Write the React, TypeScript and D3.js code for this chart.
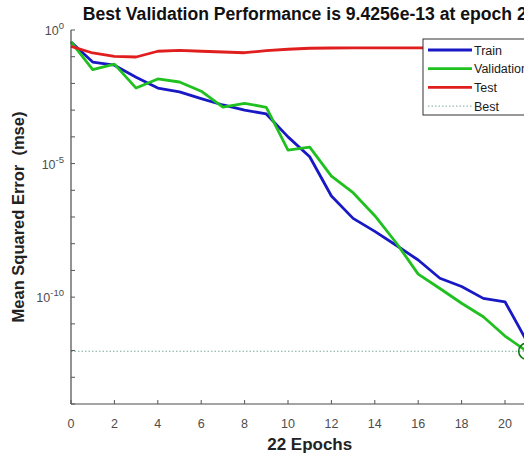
import React from "react";
import * as d3 from "d3";

const epochs = d3.range(0, 22);
const trainMse = [3.56e-1, 6.3e-2, 4.8e-2, 1.7e-2, 6.7e-3, 4.8e-3, 2.7e-3, 1.56e-3, 1.0e-3, 7.2e-4, 1.0e-4, 1.8e-5, 6.1e-7, 8.9e-8, 2.9e-8, 8.6e-9, 2.45e-9, 5.1e-10, 2.5e-10, 9.0e-11, 6.7e-11, 2.3e-12];
const validationMse = [3.56e-1, 3.27e-2, 5.3e-2, 6.7e-3, 1.47e-2, 1.13e-2, 5.1e-3, 1.31e-3, 1.8e-3, 1.28e-3, 3.2e-5, 4.1e-5, 3.4e-6, 8.1e-7, 1.12e-7, 1.04e-8, 7.3e-10, 2.1e-10, 5.9e-11, 1.85e-11, 3.5e-12, 9.4256e-13];
const testMse = [2.45e-1, 1.38e-1, 1.035e-1, 9.75e-2, 1.6e-1, 1.74e-1, 1.6e-1, 1.5e-1, 1.41e-1, 1.68e-1, 1.9e-1, 2.07e-1, 2.12e-1, 2.16e-1, 2.14e-1, 2.13e-1, 2.13e-1, 2.13e-1, 2.13e-1, 2.13e-1, 2.13e-1, 2.13e-1];
const bestEpoch = 21;
const bestValue = 9.4256e-13;
const xTicks = [0, 2, 4, 6, 8, 10, 12, 14, 16, 18, 20];
const yLabelExps = [0, -5, -10];
const yTickExps = d3.range(0, -15, -1);
const legendItems = [
  { name: "Train", color: "#1818c4", dash: "" },
  { name: "Validation", color: "#20c020", dash: "" },
  { name: "Test", color: "#e01e1e", dash: "" },
  { name: "Best", color: "#7fa898", dash: "1.5,2" },
];
const titleText = "Best Validation Performance is 9.4256e-13 at epoch 21";
const xLabel = "22 Epochs";
const yLabel = "Mean Squared Error  (mse)";

export default function App() {
  const W = 524, H = 459;
  const left = 71, right = 548.4, top = 30, bottom = 404;
  const x = d3.scaleLinear().domain([0, 22]).range([left, right]);
  const y = d3.scaleLog().domain([1e-14, 1]).range([bottom, top]);
  const line = d3.line<[number, number]>().x(d => x(d[0])).y(d => y(d[1]));
  const mk = (vals: number[]) => line(epochs.map((e, i) => [e, vals[i]] as [number, number])) || "";
  const series = [
    { vals: trainMse, color: legendItems[0].color },
    { vals: validationMse, color: legendItems[1].color },
    { vals: testMse, color: legendItems[2].color },
  ];
  const font = "'Liberation Sans', Arial, Helvetica, sans-serif";
  const axisColor = "#4a4a4a";
  const tickColor = "#555";
  const cx = (left + right) / 2;
  const cy = (top + bottom) / 2;
  return (
    <svg width={W} height={H} style={{ position: "absolute", left: 0, top: 0, background: "#fff" }} fontFamily={font}>
      <rect x={0} y={0} width={W} height={H} fill="#fff" />
      <line x1={left} x2={right} y1={y(bestValue)} y2={y(bestValue)} stroke="#7fa898" strokeWidth={1} strokeDasharray="1.5,2" />
      <line x1={x(bestEpoch)} x2={x(bestEpoch)} y1={top} y2={bottom} stroke="#7fa898" strokeWidth={1} strokeDasharray="1.5,2" />
      {series.map((s, i) => (
        <path key={i} d={mk(s.vals)} fill="none" stroke={s.color} strokeWidth={2.8} strokeLinejoin="round" />
      ))}
      <circle cx={x(bestEpoch)} cy={y(bestValue)} r={8} fill="none" stroke="#117a11" strokeWidth={1.6} />
      <line x1={left} x2={left} y1={top} y2={bottom} stroke={axisColor} strokeWidth={1.2} />
      <line x1={left} x2={right} y1={bottom} y2={bottom} stroke={axisColor} strokeWidth={1.2} />
      {xTicks.map(t => (
        <g key={t}>
          <line x1={x(t)} x2={x(t)} y1={bottom} y2={bottom - 4} stroke={tickColor} strokeWidth={1} />
          <text x={x(t)} y={428} textAnchor="middle" fontSize={12.5} fill="#4d4d4d">{t}</text>
        </g>
      ))}
      {yTickExps.map(e => (
        <line key={e} x1={left} x2={left + 4} y1={y(Math.pow(10, e))} y2={y(Math.pow(10, e))} stroke={tickColor} strokeWidth={1} />
      ))}
      {yLabelExps.map(e => (
        <text key={e} x={64} y={y(Math.pow(10, e)) + 5} textAnchor="end" fontSize={12.5} fill="#4d4d4d">
          10<tspan dy={-6} fontSize={9.5}>{e}</tspan>
        </text>
      ))}
      <g>
        <rect x={423} y={39} width={120} height={76} fill="#fff" stroke="#333" strokeWidth={1} />
        {legendItems.map((it, i) => {
          const ly = 50 + i * 18.7;
          return (
            <g key={it.name}>
              <line x1={428} x2={472} y1={ly} y2={ly} stroke={it.color} strokeWidth={it.dash ? 1 : 2.8} strokeDasharray={it.dash || undefined} />
              <text x={474} y={ly + 4.5} fontSize={12.5} fill="#1a1a1a">{it.name}</text>
            </g>
          );
        })}
      </g>
      <text x={cx} y={20} textAnchor="middle" fontSize={17.6} fontWeight="bold" fill="#111">{titleText}</text>
      <text x={cx} y={450} textAnchor="middle" fontSize={17} fontWeight="bold" fill="#222">{xLabel}</text>
      <text transform={`translate(24,${cy}) rotate(-90)`} textAnchor="middle" fontSize={16.5} fontWeight="bold" fill="#222" style={{ whiteSpace: "pre" }}>{yLabel}</text>
    </svg>
  );
}
